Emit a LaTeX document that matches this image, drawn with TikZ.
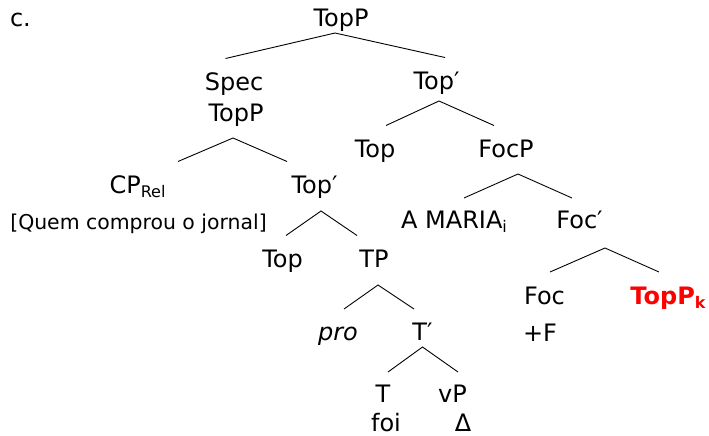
\documentclass[tikz,border=0pt]{standalone}
\usepackage{fontspec}
\setmainfont{DejaVu Sans}
\usepackage{xcolor}
\usepackage{tikz}

% lowered subscript label
\newcommand{\lowsub}[1]{\raisebox{-4pt}{\fontsize{16}{16}\selectfont #1}}

\begin{document}
\begin{tikzpicture}[x=1pt, y=-1pt,
    lab/.style={font=\fontsize{24}{28}\selectfont, inner sep=0pt, outer sep=0pt,
                anchor=base, text height=17.5pt, text depth=0pt},
    gloss/.style={lab, font=\fontsize{20.4}{24}\selectfont},
    branch/.style={line width=0.9pt}]
    \useasboundingbox (0,0) rectangle (709,436);

    % Example letter
    \node[lab, anchor=base west] (ex) at (10,27) {c.};

    % Level 0-1
    \node[lab] (topp) at (341,27) {TopP};
    \node[lab] (spec) at (234,90) {Spec};
    \node[lab] (specp) at (236,121) {TopP};
    \node[lab] (topbara) at (436.5,89) {Top′};

    % Level 2
    \node[lab] (topa) at (375,157) {Top};
    \node[lab] (focp) at (506,157) {FocP};
    \node[lab] (cprel) at (137.5,193) {CP\lowsub{Rel}};
    \node[lab] (topbarb) at (314.5,193) {Top′};
    \node[gloss] (quem) at (138.5,229) {[Quem comprou o jornal]};

    % Level 3
    \node[lab] (maria) at (454,228) {A MARIA\lowsub{i}};
    \node[lab] (focbar) at (579.5,228) {Foc′};
    \node[lab] (topb) at (282.5,267) {Top};
    \node[lab] (tp) at (374,267) {TP};

    % Level 4
    \node[lab] (foc) at (544.5,304) {Foc};
    \node[lab, red, font=\fontsize{24}{28}\selectfont\bfseries] (toppk) at (668,304) {TopP\lowsub{k}};
    \node[lab, anchor=base west] (plusf) at (523,341) {+F};
    \node[lab] (pro) at (338,340) {\itshape pro};
    \node[lab] (tbar) at (422.5,340) {T′};

    % Level 5
    \node[lab] (t) at (383,402) {T};
    \node[lab] (vp) at (452.5,402) {vP};
    \node[lab] (foi) at (386,431) {foi};
    \node[lab] (delta) at (463,431) {Δ};

    % Branches
    \draw[branch] ([xshift=-8.5pt,yshift=14pt]spec.north) -- ([xshift=-6pt,yshift=-6pt]topp.south)
        -- ([xshift=8.5pt,yshift=14pt]topbara.north);
    \draw[branch] ([xshift=40.5pt,yshift=14pt]cprel.north) -- ([xshift=-3pt,yshift=-17pt]specp.south)
        -- ([xshift=-27.5pt,yshift=14pt]topbarb.north);
    \draw[branch] ([xshift=11pt,yshift=14pt]topa.north) -- ([xshift=2.5pt,yshift=-12pt]topbara.south)
        -- ([xshift=-12pt,yshift=14pt]focp.north);
    \draw[branch] ([xshift=10pt,yshift=12.5pt]maria.north) -- ([xshift=12pt,yshift=-17pt]focp.south)
        -- ([xshift=-7.5pt,yshift=12.5pt]focbar.north);
    \draw[branch] ([xshift=3.5pt,yshift=14pt]topb.north) -- ([xshift=6.5pt,yshift=-18pt]topbarb.south)
        -- ([xshift=-17pt,yshift=14pt]tp.north);
    \draw[branch] ([xshift=6pt,yshift=13.5pt]pro.north) -- ([xshift=4pt,yshift=-18pt]tp.south)
        -- ([xshift=-8.5pt,yshift=13.5pt]tbar.north);
    \draw[branch] ([xshift=5pt,yshift=12.5pt]t.north) -- ([yshift=-7pt]tbar.south)
        -- ([xshift=5.5pt,yshift=12.5pt]vp.north);
    \draw[branch] ([xshift=5.5pt,yshift=14.5pt]foc.north) -- ([xshift=25.5pt,yshift=-20pt]focbar.south)
        -- ([xshift=-9pt,yshift=14.5pt]toppk.north);

\end{tikzpicture}
\end{document}
